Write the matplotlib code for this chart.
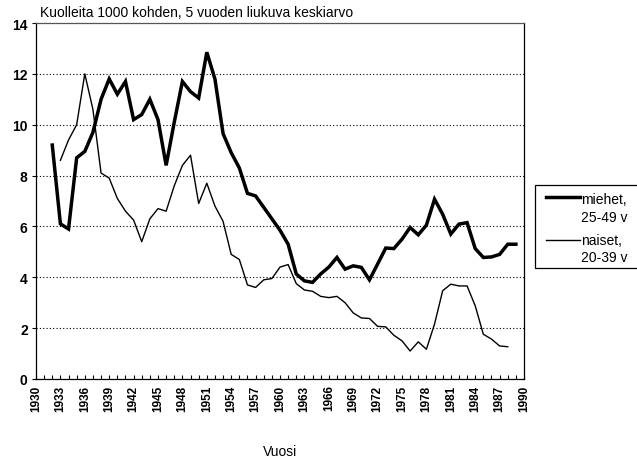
import matplotlib
matplotlib.use("Agg")
import matplotlib.pyplot as plt
from matplotlib.lines import Line2D
from matplotlib.patches import Rectangle

plt.rcParams['font.family'] = ['Liberation Sans', 'DejaVu Sans']

title = "Kuolleita 1000 kohden, 5 vuoden liukuva keskiarvo"
xlabel = "Vuosi"
men_label = ["miehet,", "25-49 v"]
women_label = ["naiset,", "20-39 v"]

men_years = list(range(1932, 1990))
men_values = [9.2, 6.1, 5.9, 8.7, 8.95, 9.7, 11.0, 11.8, 11.2, 11.7,
              10.2, 10.4, 11.0, 10.2, 8.4, 10.1, 11.7, 11.3, 11.05, 12.85,
              11.8, 9.65, 8.9, 8.3, 7.3, 7.2, 6.75, 6.3, 5.85, 5.3,
              4.13, 3.86, 3.8, 4.13, 4.4, 4.78, 4.32, 4.45, 4.39, 3.9,
              4.52, 5.15, 5.13, 5.5, 5.96, 5.67, 6.05, 7.07, 6.48, 5.7,
              6.09, 6.15, 5.13, 4.78, 4.8, 4.9, 5.3, 5.3]

women_years = list(range(1933, 1989))
women_values = [8.6, 9.4, 10.0, 12.0, 10.6, 8.1, 7.9, 7.1, 6.6, 6.25,
                5.4, 6.3, 6.7, 6.6, 7.6, 8.4, 8.8, 6.9, 7.7, 6.8,
                6.2, 4.9, 4.7, 3.7, 3.6, 3.9, 3.95, 4.4, 4.5, 3.75,
                3.5, 3.45, 3.25, 3.2, 3.25, 3.0, 2.6, 2.4, 2.38, 2.07,
                2.05, 1.72, 1.5, 1.1, 1.46, 1.17, 2.16, 3.47, 3.73, 3.66,
                3.66, 2.88, 1.76, 1.57, 1.3, 1.27]

x_tick_years = list(range(1930, 1991, 3))
y_ticks = list(range(0, 15, 2))

W, H = 637, 460
fig = plt.figure(figsize=(W / 100, H / 100), dpi=100)
ax = fig.add_axes([36 / W, 1 - 380 / H, (524 - 36) / W, (380 - 24) / H])

ax.plot(men_years, men_values, color='black', lw=2.5, solid_joinstyle='miter', zorder=3)
ax.plot(women_years, women_values, color='black', lw=1.0, zorder=3)

ax.set_xlim(1930, 1990)
ax.set_ylim(0, 14)
ax.set_xticks(x_tick_years)
ax.set_xticklabels([str(y) for y in x_tick_years], rotation=90, fontsize=8.5,
                   fontweight='bold')
ax.set_xticks(list(range(1930, 1991)), minor=True)
ax.set_yticks(y_ticks)
ax.set_yticklabels([str(v) for v in y_ticks], fontsize=10, fontweight='bold')
ax.tick_params(axis='x', which='both', direction='in', length=3, width=0.8, pad=4)
ax.tick_params(axis='y', direction='out', length=3, width=0.8, pad=3)

for v in y_ticks[1:-1]:
    ax.axhline(v, color='black', lw=0.8, ls=(0, (1, 2)), zorder=1)

for s in ax.spines.values():
    s.set_color('black')
    s.set_linewidth(0.9)
ax.spines['top'].set_color('#555555')

fig.text(40 / W, 1 - 13 / H, title, fontsize=10, ha='left', va='center')
fig.text(280 / W, 1 - 452 / H, xlabel, fontsize=10, ha='center', va='center')

# legend box
fig.patches.append(Rectangle((535 / W, 1 - 269 / H), (W + 5 - 535) / W, (269 - 186) / H,
                             transform=fig.transFigure, fill=False, ec='black', lw=0.9))
fig.lines.append(Line2D([546 / W, 580 / W], [1 - 198 / H, 1 - 198 / H],
                        transform=fig.transFigure, color='black', lw=2.5))
fig.lines.append(Line2D([546 / W, 580 / W], [1 - 241 / H, 1 - 241 / H],
                        transform=fig.transFigure, color='black', lw=1.0))
fig.text(581 / W, 1 - 200 / H, men_label[0], fontsize=10, ha='left', va='center')
fig.text(581 / W, 1 - 218 / H, men_label[1], fontsize=10, ha='left', va='center')
fig.text(581 / W, 1 - 241 / H, women_label[0], fontsize=10, ha='left', va='center')
fig.text(581 / W, 1 - 258 / H, women_label[1], fontsize=10, ha='left', va='center')

fig.savefig("out.png", dpi=100)
